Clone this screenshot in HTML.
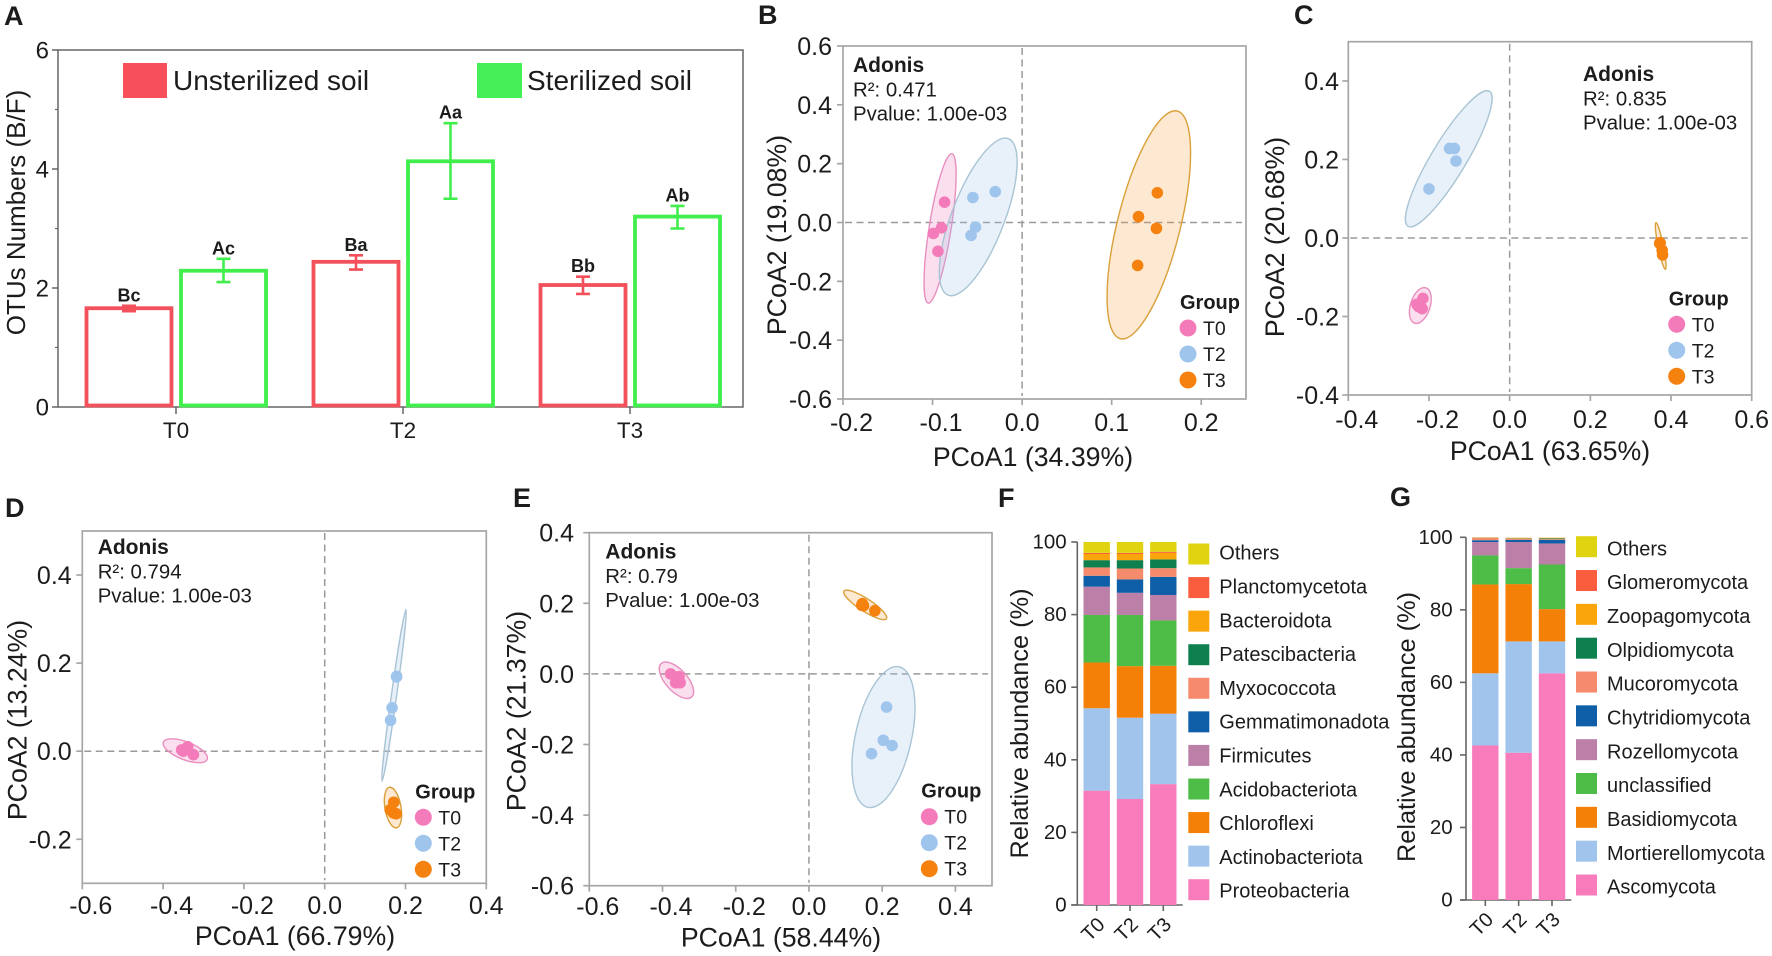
<!DOCTYPE html>
<html lang="en">
<head>
<meta charset="utf-8">
<title>OTU ratios, PCoA and relative abundance panels</title>
<style>
html,body{margin:0;padding:0;background:#fff;}
svg{display:block;font-family:"Liberation Sans",Arial,sans-serif;fill:#1c1c1c;}
</style>
</head>
<body>
<svg id="figure" width="1772" height="956" viewBox="0 0 1772 956" xmlns="http://www.w3.org/2000/svg">
  <rect x="0" y="0" width="1772" height="956" fill="#fff"></rect>
  <text x="4" y="25" font-size="27" font-weight="bold">A</text>
  <text x="758" y="24" font-size="27" font-weight="bold">B</text>
  <text x="1294" y="24" font-size="27" font-weight="bold">C</text>
  <text x="5" y="517" font-size="27" font-weight="bold">D</text>
  <text x="513" y="507" font-size="27" font-weight="bold">E</text>
  <text x="998" y="507" font-size="27" font-weight="bold">F</text>
  <text x="1390" y="506" font-size="27" font-weight="bold">G</text>
  <g id="panel-a"></g>
  <g id="panel-b"></g>
  <g id="panel-c"></g>
  <g id="panel-d"></g>
  <g id="panel-e"></g>
  <g id="panel-f"></g>
  <g id="panel-g"></g>
</svg>
<script>
/* ---------- Panel A data ---------- */
const aCategories = ['T0', 'T2', 'T3'];
const aYTicks = [0, 2, 4, 6];
const aMinorTicks = [1, 3, 5];
const aUnsterilized = [1.66, 2.44, 2.05];
const aUnsterilizedLow = [1.61, 2.31, 1.90];
const aUnsterilizedHigh = [1.70, 2.55, 2.19];
const aUnsterilizedLetters = ['Bc', 'Ba', 'Bb'];
const aSterilized = [2.29, 4.13, 3.20];
const aSterilizedLow = [2.10, 3.50, 3.00];
const aSterilizedHigh = [2.49, 4.77, 3.38];
const aSterilizedLetters = ['Ac', 'Aa', 'Ab'];

/* ---------- Panel B data ---------- */
const bXTicks = ['-0.2', '-0.1', '0.0', '0.1', '0.2'];
const bYTicks = ['0.6', '0.4', '0.2', '0.0', '-0.2', '-0.4', '-0.6'];
const bT0X = [-0.0866, -0.090, -0.099, -0.094];
const bT0Y = [0.069, -0.018, -0.037, -0.098];
const bT2X = [-0.055, -0.030, -0.052, -0.057];
const bT2Y = [0.085, 0.105, -0.016, -0.044];
const bT3X = [0.151, 0.130, 0.150, 0.129];
const bT3Y = [0.101, 0.020, -0.020, -0.146];
const bT0Ellipse = [-0.0916, -0.020, 0.0132, 0.254, 0.145];
const bT2Ellipse = [-0.049, 0.019, 0.0337, 0.266, 0.314];
const bT3Ellipse = [0.1415, -0.008, 0.0318, 0.387, 0.268];

/* ---------- Panel C data ---------- */
const cXTicks = ['-0.4', '-0.2', '0.0', '0.2', '0.4', '0.6'];
const cYTicks = ['0.4', '0.2', '0.0', '-0.2', '-0.4'];
const cT0X = [-0.215, -0.230, -0.217, -0.2256];
const cT0Y = [-0.154, -0.169, -0.180, -0.175];
const cT2X = [-0.149, -0.137, -0.133, -0.200];
const cT2Y = [0.228, 0.228, 0.196, 0.125];
const cT3X = [0.373, 0.378, 0.379, 0.372];
const cT3Y = [-0.012, -0.031, -0.043, -0.014];
const cT0Ellipse = [-0.2215, -0.172, 0.014, 0.045, 0.53];
const cT2Ellipse = [-0.151, 0.2017, 0.1009, 0.172, 0.221];
const cT3Ellipse = [0.3744, -0.0204, -0.0117, 0.0595, 0.11];

/* ---------- Panel D data ---------- */
const dXTicks = ['-0.6', '-0.4', '-0.2', '0.0', '0.2', '0.4'];
const dYTicks = ['0.4', '0.2', '0.0', '-0.2'];
const dT0X = [-0.339, -0.354, -0.325, -0.350];
const dT0Y = [0.010, 0.003, -0.008, 0.000];
const dT2X = [0.178, 0.1667, 0.163, 0.178];
const dT2Y = [0.170, 0.0985, 0.070, 0.169];
const dT3X = [0.171, 0.162, 0.1766, 0.170];
const dT3Y = [-0.116, -0.133, -0.142, -0.140];
const dT0Ellipse = [-0.345, 0.001, 0.0542, -0.0195, 0.38];
const dT2Ellipse = [0.1716, 0.127, 0.0297, 0.195, 0.03];
const dT3Ellipse = [0.169, -0.128, -0.0088, 0.046, 0.39];

/* ---------- Panel E data ---------- */
const eXTicks = ['-0.6', '-0.4', '-0.2', '0.0', '0.2', '0.4'];
const eYTicks = ['0.4', '0.2', '0.0', '-0.2', '-0.4', '-0.6'];
const eT0X = [-0.378, -0.355, -0.364, -0.352];
const eT0Y = [0.000, -0.008, -0.025, -0.025];
const eT2X = [0.212, 0.203, 0.227, 0.171];
const eT2Y = [-0.094, -0.188, -0.203, -0.226];
const eT3X = [0.146, 0.149, 0.180, 0.144];
const eT3Y = [0.199, 0.193, 0.179, 0.1945];
const eT0Ellipse = [-0.362, -0.018, -0.0415, 0.0473, 0.48];
const eT2Ellipse = [0.2036, -0.179, 0.0428, 0.199, 0.389];
const eT3Ellipse = [0.1536, 0.1955, 0.058, -0.039, 0.25];

/* ---------- Panel F data (bottom to top) ---------- */
const stackCategories = ['T0', 'T2', 'T3'];
const stackTicks = [0, 20, 40, 60, 80, 100];
const fSeries = ['Proteobacteria', 'Actinobacteriota', 'Chloroflexi', 'Acidobacteriota', 'Firmicutes', 'Gemmatimonadota', 'Myxococcota', 'Patescibacteria', 'Bacteroidota', 'Planctomycetota', 'Others'];
const fT0 = [31.5, 22.7, 12.6, 13.1, 7.8, 3.0, 2.3, 2.0, 1.7, 0.3, 3.0];
const fT2 = [29.2, 22.4, 14.2, 14.1, 6.1, 3.7, 3.0, 2.3, 1.7, 0.3, 3.0];
const fT3 = [33.3, 19.4, 13.2, 12.5, 7.0, 5.0, 2.4, 2.4, 1.8, 0.3, 2.7];

/* ---------- Panel G data (bottom to top) ---------- */
const gSeries = ['Ascomycota', 'Mortierellomycota', 'Basidiomycota', 'unclassified', 'Rozellomycota', 'Chytridiomycota', 'Mucoromycota', 'Olpidiomycota', 'Zoopagomycota', 'Glomeromycota', 'Others'];
const gT0 = [42.6, 19.9, 24.5, 8.0, 3.7, 0.5, 0.6, 0.05, 0.05, 0.05, 0.05];
const gT2 = [40.6, 30.7, 15.8, 4.4, 7.2, 0.6, 0.3, 0.1, 0.1, 0.05, 0.05];
const gT3 = [62.5, 8.8, 8.9, 12.3, 5.8, 1.0, 0.2, 0.2, 0.1, 0.05, 0.05];

/* ---------- Styles ---------- */
const stackPalette = ['#F87CBC', '#A0C4EC', '#F58008', '#4DBD48', '#BC7FA8', '#0F5FA8', '#F58A6C', '#0E8050', '#FBA50D', '#F95D3E', '#E0D310'];
const groupNames = ['T0', 'T2', 'T3'];
const groupFill = ['#F47BB9', '#9FC5EC', '#F5820F'];
const ellipseFill = ['#F47BB9', '#9FC5EC', '#F5A040'];
const ellipseStroke = ['#E88FBF', '#A9C4D4', '#D9A03A'];
const RED = '#F2505A';
const GREEN = '#40EE4C';

const NS = 'http://www.w3.org/2000/svg';
function make(parent, tag, attrs) {
  const e = document.createElementNS(NS, tag);
  for (const k in attrs) e.setAttribute(k, attrs[k]);
  parent.appendChild(e);
  return e;
}
function write(parent, str, attrs) {
  const t = make(parent, 'text', attrs);
  t.textContent = str;
  return t;
}
function linear(d0, d1, r0, r1) {
  return function (v) { return r0 + (v - d0) / (d1 - d0) * (r1 - r0); };
}

/* ---------- Panel A ---------- */
function drawPanelA() {
  const g = document.getElementById('panel-a');
  const L = 58, R = 743, T = 50, B = 407;
  const y = linear(0, 6, B, T);
  const cx = function (i) { return 176 + i * 227; };

  const frame = make(g, 'rect', { x: L, y: T, width: R - L, height: B - T, fill: 'none', stroke: '#666', 'stroke-width': 1.5 });
  
  

  aYTicks.forEach(function (v) {
    const tick = make(g, 'line', { x1: L - 6, x2: L, y1: y(v), y2: y(v), stroke: '#666', 'stroke-width': 1.5 });
    
    
    const lab = write(g, String(v), { x: 49, y: y(v) + 8.5, 'font-size': 24, 'text-anchor': 'end' });
    
    
  });
  aMinorTicks.forEach(function (v) {
    const tick = make(g, 'line', { x1: L - 3, x2: L, y1: y(v), y2: y(v), stroke: '#666', 'stroke-width': 1.2 });
    
    
  });

  const yTitle = write(g, 'OTUs Numbers (B/F)', { transform: 'translate(25 212.5) rotate(-90)', 'font-size': 26, 'text-anchor': 'middle' });
  
  

  aCategories.forEach(function (c, i) {
    const tick = make(g, 'line', { x1: cx(i), x2: cx(i), y1: B, y2: B + 7, stroke: '#666', 'stroke-width': 1.5 });
    
    
    const lab = write(g, c, { x: cx(i), y: 438, 'font-size': 22.5, 'text-anchor': 'middle' });
    
    

    const series = [
      [-47, aUnsterilized[i], aUnsterilizedLow[i], aUnsterilizedHigh[i], aUnsterilizedLetters[i], RED, 'unsterilized'],
      [47.5, aSterilized[i], aSterilizedLow[i], aSterilizedHigh[i], aSterilizedLetters[i], GREEN, 'sterilized']
    ];
    series.forEach(function (s) {
      const x = cx(i) + s[0];
      const bar = make(g, 'rect', { x: x - 42.5, y: y(s[1]), width: 85, height: B - 1.5 - y(s[1]), fill: 'none', stroke: s[5], 'stroke-width': 3.8 });
      
      
      const err = make(g, 'path', {
        d: 'M' + x + ' ' + y(s[2]) + 'V' + y(s[3]) + 'M' + (x - 7) + ' ' + y(s[2]) + 'H' + (x + 7) + 'M' + (x - 7) + ' ' + y(s[3]) + 'H' + (x + 7),
        fill: 'none', stroke: s[5], 'stroke-width': 2.6
      });
      
      
      const sig = write(g, s[4], { x: x, y: y(s[3]) - 4.5, 'font-size': 18, 'font-weight': 'bold', 'text-anchor': 'middle' });
      
      
    });
  });

  const sw1 = make(g, 'rect', { x: 123, y: 63, width: 44, height: 35, fill: '#F7505A' });
  
  
  const lt1 = write(g, 'Unsterilized soil', { x: 173, y: 90, 'font-size': 28 });
  
  
  const sw2 = make(g, 'rect', { x: 477, y: 63, width: 45, height: 35, fill: '#44F056' });
  
  
  const lt2 = write(g, 'Sterilized soil', { x: 527, y: 90, 'font-size': 28 });
  
  
}

/* ---------- PCoA panels ---------- */
function drawPcoa(id, box, xTicks, yTicks, xs, ys, ells, adonis, xTitle, yTitle) {
  const g = document.getElementById(id);
  const x = linear(box.xd[0], box.xd[1], box.l, box.r);
  const y = linear(box.yd[0], box.yd[1], box.b, box.t);
  const AX = '#A6A6A6';

  const frame = make(g, 'rect', { x: box.l, y: box.t, width: box.r - box.l, height: box.b - box.t, fill: 'none', stroke: AX, 'stroke-width': 1.7 });
  
  

  const h0 = make(g, 'line', { x1: box.l + 2, x2: box.r - 4, y1: y(0), y2: y(0), stroke: '#9A9A9A', 'stroke-width': 1.5, 'stroke-dasharray': '7 4.5' });
  
  
  const v0 = make(g, 'line', { x1: x(0), x2: x(0), y1: box.t + 2, y2: box.b - 3, stroke: '#9A9A9A', 'stroke-width': 1.5, 'stroke-dasharray': '7 4.5' });
  
  

  xTicks.forEach(function (s) {
    const v = parseFloat(s);
    const tick = make(g, 'line', { x1: x(v), x2: x(v), y1: box.b, y2: box.b + 6, stroke: AX, 'stroke-width': 1.7 });
    
    
    const lab = write(g, s, { x: x(v) + (v < 0 ? 8.5 : 0), y: box.xLab, 'font-size': 25, 'text-anchor': 'middle' });
    
    
  });
  yTicks.forEach(function (s) {
    const v = parseFloat(s);
    const tick = make(g, 'line', { x1: box.l - 6, x2: box.l, y1: y(v), y2: y(v), stroke: AX, 'stroke-width': 1.7 });
    
    
    const lab = write(g, s, { x: box.yLab, y: y(v) + 9, 'font-size': 25, 'text-anchor': 'end' });
    
    
  });

  const xt = write(g, xTitle, { x: box.xtX, y: box.xtY, 'font-size': 26.7, 'text-anchor': 'middle' });
  
  
  const yt = write(g, yTitle, { transform: 'translate(' + box.ytX + ' ' + box.ytY + ') rotate(-90)', 'font-size': 26.7, 'text-anchor': 'middle' });
  
  

  ells.forEach(function (e, i) {
    const cx = x(e[0]), cy = y(e[1]);
    const mx = x(e[0] + e[2]) - cx, my = y(e[1] + e[3]) - cy;
    const len = Math.sqrt(mx * mx + my * my);
    const ang = Math.atan2(my, mx) * 180 / Math.PI;
    const ell = make(g, 'ellipse', {
      cx: cx, cy: cy, rx: len, ry: len * e[4],
      transform: 'rotate(' + ang + ' ' + cx + ' ' + cy + ')',
      fill: ellipseFill[i], 'fill-opacity': 0.24, stroke: ellipseStroke[i], 'stroke-width': 1.4
    });
    
    
  });
  xs.forEach(function (arr, i) {
    arr.forEach(function (v, j) {
      const p = make(g, 'circle', { cx: x(v), cy: y(ys[i][j]), r: 5.8, fill: groupFill[i] });
      
      
    });
  });

  const a1 = write(g, 'Adonis', { x: box.ax, y: box.ay, 'font-size': 21, 'font-weight': 'bold' });
  
  
  const a2 = write(g, adonis[0], { x: box.ax, y: box.ay + 24.5, 'font-size': 20.4 });
  
  
  const a3 = write(g, adonis[1], { x: box.ax, y: box.ay + 48.5, 'font-size': 20.4 });
  
  

  const lg = write(g, 'Group', { x: box.lx - 8, y: box.ly - 19, 'font-size': 20, 'font-weight': 'bold' });
  
  
  groupNames.forEach(function (n, i) {
    const c = make(g, 'circle', { cx: box.lx, cy: box.ly + i * 26, r: 8.5, fill: groupFill[i] });
    
    
    const t = write(g, n, { x: box.lx + 15, y: box.ly + i * 26 + 7, 'font-size': 19.5 });
    
    
  });
}

/* ---------- Stacked bars ---------- */
function drawStack(id, box, names, columns) {
  const g = document.getElementById(id);
  const y = linear(0, 100, box.y0, box.y100);
  const AX = '#666';

  const yAxis = make(g, 'line', { x1: box.ax, x2: box.ax, y1: box.y100, y2: box.y0, stroke: AX, 'stroke-width': 1.6 });
  
  
  const xAxis = make(g, 'line', { x1: box.ax - 6, x2: box.axEnd, y1: box.y0, y2: box.y0, stroke: AX, 'stroke-width': 1.6 });
  
  

  stackTicks.forEach(function (v) {
    const tick = make(g, 'line', { x1: box.ax - 6, x2: box.ax, y1: y(v), y2: y(v), stroke: AX, 'stroke-width': 1.6 });
    
    
    const lab = write(g, String(v), { x: box.yLab, y: y(v) + 6.5, 'font-size': 20.5, 'text-anchor': 'end' });
    
    
  });
  const yt = write(g, 'Relative abundance (%)', { transform: 'translate(' + box.ytX + ' ' + box.ytY + ') rotate(-90)', 'font-size': 25.3, 'text-anchor': 'middle' });
  
  

  columns.forEach(function (col, i) {
    const c = box.c0 + i * box.step;
    let acc = 0;
    col.forEach(function (v, k) {
      const seg = make(g, 'rect', { x: c - 13.2, y: y(acc + v), width: 26.4, height: y(acc) - y(acc + v), fill: stackPalette[k] });
      
      
      acc += v;
    });
    const tick = make(g, 'line', { x1: c, x2: c, y1: box.y0, y2: box.y0 + 6, stroke: AX, 'stroke-width': 1.6 });
    
    
    const lab = write(g, stackCategories[i], { transform: 'translate(' + (c + 1) + ' ' + (box.y0 + 29) + ') rotate(-45)', 'font-size': 20, 'text-anchor': 'middle' });
    
    
  });

  names.forEach(function (n, k) {
    const row = names.length - 1 - k;
    const sy = box.lgTop + row * box.lgStep;
    const sw = make(g, 'rect', { x: box.lgX, y: sy - 10.5, width: 21, height: 21, fill: stackPalette[k] });
    
    
    const t = write(g, n, { x: box.lgX + 31, y: box.txtTop + row * box.txtStep + 7, 'font-size': 20 });
    
    
  });
}

drawPanelA();

drawPcoa('panel-b',
  { l: 843, r: 1246, t: 46, b: 399, xd: [-0.2, 0.25], yd: [-0.6, 0.6], xLab: 431, yLab: 832, xtX: 1033, xtY: 466, ytX: 786, ytY: 235, ax: 853, ay: 72, lx: 1188, ly: 328 },
  bXTicks, bYTicks, [bT0X, bT2X, bT3X], [bT0Y, bT2Y, bT3Y], [bT0Ellipse, bT2Ellipse, bT3Ellipse],
  ['R\u00B2: 0.471', 'Pvalue: 1.00e-03'], 'PCoA1 (34.39%)', 'PCoA2 (19.08%)');

drawPcoa('panel-c',
  { l: 1348.3, r: 1751.7, t: 41.7, b: 395, xd: [-0.4, 0.6], yd: [-0.4, 0.5], xLab: 428, yLab: 1339, xtX: 1550, xtY: 460, ytX: 1284, ytY: 237, ax: 1583, ay: 81, lx: 1676.7, ly: 324.3 },
  cXTicks, cYTicks, [cT0X, cT2X, cT3X], [cT0Y, cT2Y, cT3Y], [cT0Ellipse, cT2Ellipse, cT3Ellipse],
  ['R\u00B2: 0.835', 'Pvalue: 1.00e-03'], 'PCoA1 (63.65%)', 'PCoA2 (20.68%)');

drawPcoa('panel-d',
  { l: 82.3, r: 486.3, t: 531, b: 883.3, xd: [-0.6, 0.4], yd: [-0.3, 0.5], xLab: 914, yLab: 71.7, xtX: 295, xtY: 945, ytX: 26.7, ytY: 720, ax: 97.7, ay: 554, lx: 423.3, ly: 817.3 },
  dXTicks, dYTicks, [dT0X, dT2X, dT3X], [dT0Y, dT2Y, dT3Y], [dT0Ellipse, dT2Ellipse, dT3Ellipse],
  ['R\u00B2: 0.794', 'Pvalue: 1.00e-03'], 'PCoA1 (66.79%)', 'PCoA2 (13.24%)');

drawPcoa('panel-e',
  { l: 589.3, r: 992, t: 532.7, b: 885.7, xd: [-0.6, 0.5], yd: [-0.6, 0.4], xLab: 915, yLab: 574, xtX: 781, xtY: 946.7, ytX: 525.7, ytY: 711, ax: 605.3, ay: 558.3, lx: 929.3, ly: 816.7 },
  eXTicks, eYTicks, [eT0X, eT2X, eT3X], [eT0Y, eT2Y, eT3Y], [eT0Ellipse, eT2Ellipse, eT3Ellipse],
  ['R\u00B2: 0.79', 'Pvalue: 1.00e-03'], 'PCoA1 (58.44%)', 'PCoA2 (21.37%)');

drawStack('panel-f',
  { ax: 1077.3, axEnd: 1182.7, y0: 905, y100: 542, yLab: 1066.7, ytX: 1028, ytY: 723.5, c0: 1096.7, step: 33.3, lgX: 1188.3, lgTop: 554, lgStep: 33.57, txtTop: 552.7, txtStep: 33.8 },
  fSeries, [fT0, fT2, fT3]);

drawStack('panel-g',
  { ax: 1466, axEnd: 1571.3, y0: 900, y100: 537.3, yLab: 1452.7, ytX: 1415, ytY: 727, c0: 1485.3, step: 33.35, lgX: 1576, lgTop: 546.7, lgStep: 33.83, txtTop: 548.3, txtStep: 33.83 },
  gSeries, [gT0, gT2, gT3]);
</script>
</body>
</html>
